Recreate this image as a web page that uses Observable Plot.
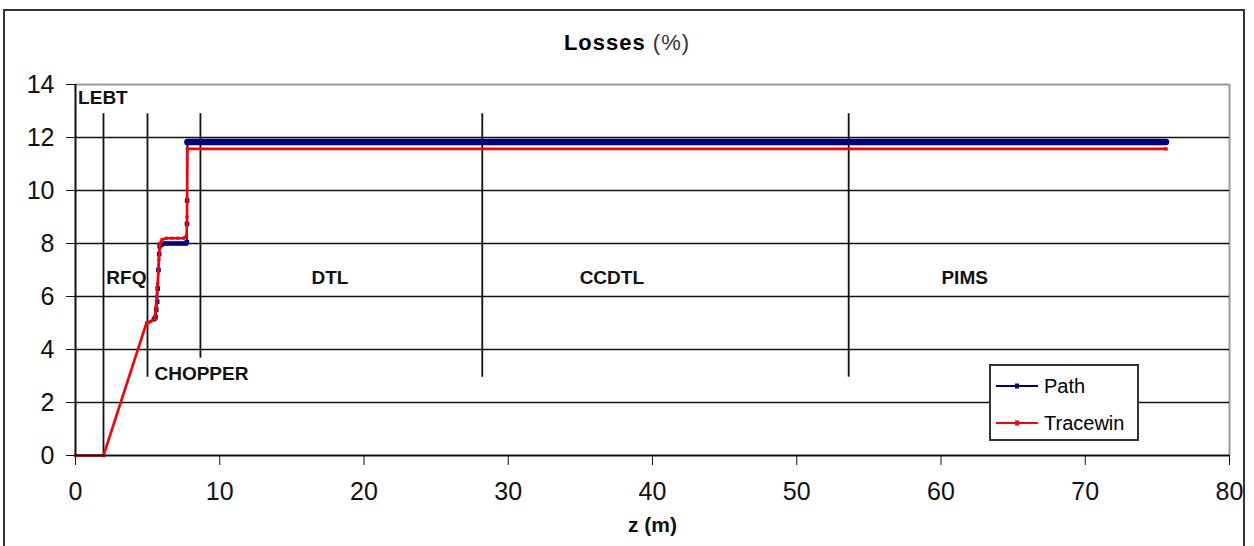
<!DOCTYPE html>
<html>
<head>
<meta charset="utf-8">
<script src="https://cdn.jsdelivr.net/npm/d3@7"></script>
<script src="https://cdn.jsdelivr.net/npm/@observablehq/plot@0.6"></script>
<style>
  html, body { margin: 0; padding: 0; background: #fff; }
  body { width: 1254px; height: 546px; overflow: hidden; position: relative; font-family: "Liberation Sans", Arial, sans-serif; }
  #frame { position: absolute; left: 3px; top: 9px; width: 1242px; height: 560px; border: 2px solid #333; box-sizing: border-box; pointer-events: none; }
  #chart { position: absolute; left: 0; top: 0; }
  #title { position: absolute; left: 0; top: 30px; width: 1254px; text-align: center; font-size: 22px; letter-spacing: 1px; color: #000; }
  #title b { font-weight: bold; }
  #title span { color: #333; }
  #legend { position: absolute; left: 989px; top: 364px; width: 150px; height: 77px; border: 2px solid #333; box-sizing: border-box; background: #fff; font-size: 20px; }
  #legend .row { position: absolute; left: 5px; height: 24px; display: flex; align-items: center; }
  #legend svg { margin-right: 6px; }
</style>
</head>
<body>
<div id="chart"></div>
<div id="frame"></div>
<div id="title"><b>Losses</b> <span>(%)</span></div>
<div id="legend"></div>
<script>
// ---- data ----
const seriesNames = ["Path", "Tracewin"];
const seriesColors = ["#000080", "#ff0000"];

// Path (blue): rise through RFQ / chopper
const pathZ = [5.45, 5.55, 5.6, 5.66, 5.7, 5.75, 5.8, 5.84, 5.95, 6.2, 6.5, 6.8, 7.1, 7.4, 7.65, 7.72, 7.73, 7.74, 7.76];
const pathV = [5.15, 5.22, 5.5, 5.8, 6.3, 7.0, 7.6, 7.9, 7.95, 8.0, 8.0, 8.0, 8.0, 8.0, 8.0, 8.05, 8.74, 9.62, 11.82];
// Path (blue): plateau along DTL / CCDTL / PIMS
const pathFlatZ = [7.76, 28.2, 53.6, 75.6];
const pathFlatV = [11.83, 11.83, 11.83, 11.83];

// Tracewin (red)
const twZ = [0, 1.94, 4.92, 5.05, 5.2, 5.35, 5.5, 5.58, 5.63, 5.7, 5.78, 5.85, 6.0, 6.3, 6.7, 7.1, 7.5, 7.7, 7.73, 7.75, 75.6];
const twV = [0, 0, 5.0, 5.02, 5.06, 5.1, 5.2, 5.6, 6.0, 6.5, 7.4, 8.0, 8.15, 8.2, 8.2, 8.2, 8.2, 8.3, 9.0, 11.57, 11.57];

// section boundaries
const sectionZ = [1.94, 4.99, 8.66, 28.2, 53.6];
const sectionTop = [12.9, 12.9, 12.9, 12.9, 12.9];
const sectionBottom = [0, 2.95, 3.67, 2.95, 2.95];

// section labels
const labelText = ["LEBT", "RFQ", "CHOPPER", "DTL", "CCDTL", "PIMS"];
const labelZ = [1.9, 3.53, 8.73, 17.64, 37.18, 61.64];
const labelV = [13.5, 6.72, 3.07, 6.72, 6.72, 6.72];

const xTicks = [0, 10, 20, 30, 40, 50, 60, 70, 80];
const yTicks = [0, 2, 4, 6, 8, 10, 12, 14];
const gridY = [2, 4, 6, 8, 10, 12];

// ---- tables ----
const pathData = pathZ.map((z, i) => ({z, v: pathV[i]}));
const pathFlat = pathFlatZ.map((z, i) => ({z, v: pathFlatV[i]}));
const twData = twZ.map((z, i) => ({z, v: twV[i]}));
const sections = sectionZ.map((z, i) => ({z, y1: sectionTop[i], y2: sectionBottom[i]}));
const labels = labelText.map((t, i) => ({t, z: labelZ[i], v: labelV[i]}));

const chart = Plot.plot({
  width: 1254,
  height: 546,
  marginLeft: 75,
  marginRight: 25,
  marginTop: 84,
  marginBottom: 91,
  style: {fontFamily: "'Liberation Sans', Arial, sans-serif", background: "transparent", color: "#111"},
  x: {domain: [0, 80]},
  y: {domain: [0, 14]},
  marks: [
    // plot area border (top / right)
    Plot.ruleY([14], {stroke: "#999", strokeWidth: 2}),
    Plot.ruleX([80], {stroke: "#999", strokeWidth: 2}),
    // gridlines
    Plot.ruleY(gridY, {stroke: "#111", strokeWidth: 1.6}),
    // section boundaries
    Plot.ruleX(sections, {x: "z", y1: "y1", y2: "y2", stroke: "#111", strokeWidth: 1.8}),
    // section labels
    Plot.text(labels, {x: "z", y: "v", text: "t", fontSize: 19, fontWeight: "bold", fill: "#111"}),
    // Path series
    Plot.line(pathFlat, {x: "z", y: "v", stroke: seriesColors[0], strokeWidth: 6.5}),
    Plot.line(pathData, {x: "z", y: "v", stroke: seriesColors[0], strokeWidth: 2}),
    Plot.dot(pathData, {x: "z", y: "v", symbol: "square", r: 2.6, fill: seriesColors[0]}),
    // Tracewin series
    Plot.line(twData, {x: "z", y: "v", stroke: seriesColors[1], strokeWidth: 2.6}),
    Plot.dot(twData, {x: "z", y: "v", symbol: "square", r: 1.8, fill: seriesColors[1]}),
    // axes
    Plot.ruleX([0], {stroke: "#111", strokeWidth: 2}),
    Plot.ruleY([0], {stroke: "#111", strokeWidth: 2}),
    Plot.axisX({ticks: xTicks, tickSize: 10, tickPadding: 17, fontSize: 25, label: null, tickFormat: d => d, stroke: "#111"}),
    Plot.axisX({ticks: [], tickSize: 0, label: "z (m)", labelAnchor: "center", labelArrow: "none", labelOffset: 76, fontSize: 21, fontWeight: "bold"}),
    Plot.axisY({ticks: yTicks, tickSize: 9, tickPadding: 12, fontSize: 25, label: null, tickFormat: d => d, stroke: "#111"})
  ]
});
document.getElementById("chart").appendChild(chart);

// legend
const legend = document.getElementById("legend");
seriesNames.forEach((name, i) => {
  const row = document.createElement("div");
  row.className = "row";
  row.style.top = (i === 0 ? 8 : 45) + "px";
  row.innerHTML = `<svg width="42" height="10"><line x1="0" y1="5" x2="42" y2="5" stroke="${seriesColors[i]}" stroke-width="2"/><rect x="19" y="2.5" width="4" height="5" fill="${seriesColors[i]}"/></svg><span>${name}</span>`;
  legend.appendChild(row);
});
</script>
</body>
</html>
